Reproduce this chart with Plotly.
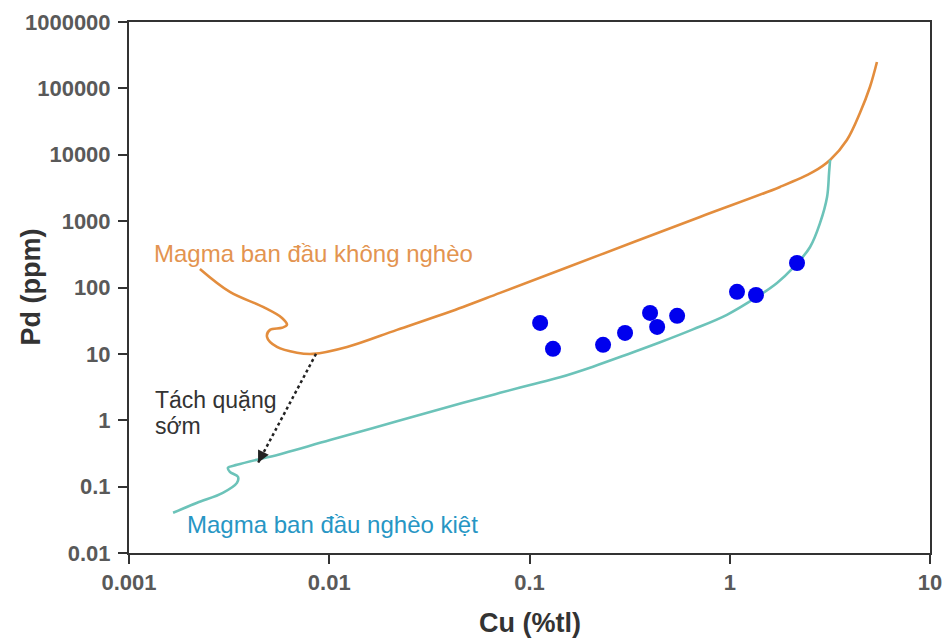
import math
import plotly.graph_objects as go

# ---- data ----
# Orange curve: "Magma ban đầu không nghèo"
orange_cu = [0.00226, 0.00319, 0.00467, 0.00581, 0.00615, 0.00581, 0.00506, 0.00489,
             0.00548, 0.00690, 0.00830, 0.01227, 0.02178, 0.0466, 0.0713, 0.225,
             0.710, 1.782, 2.606, 3.170, 3.846, 4.467, 5.012, 5.433]
orange_pd = [190.5, 85.9, 51.0, 34.8, 27.4, 24.7, 23.0, 18.0,
             12.7, 10.4, 10.0, 12.7, 23.0, 51.0, 83.0, 310,
             1156, 3273, 5508, 8356, 16710, 42660, 104950, 250000]

# Teal curve: "Magma ban đầu nghèo kiệt"
teal_cu = [0.00166, 0.00219, 0.00294, 0.00346, 0.00350, 0.00319, 0.00312, 0.00346,
           0.00436, 0.00506, 0.01009, 0.02178, 0.0466, 0.0713, 0.1006, 0.1419, 0.2075,
           0.307, 0.449, 0.655, 0.968, 1.368, 1.722, 2.070, 2.518, 2.825, 3.062,
           3.133, 3.170]
teal_pd = [0.0403, 0.0570, 0.0807, 0.114, 0.1406, 0.167, 0.192, 0.213,
           0.254, 0.281, 0.503, 0.962, 1.828, 2.588, 3.39, 4.44, 6.42,
           9.79, 14.95, 23.4, 38.8, 72.1, 117, 197, 408, 940, 2312,
           5321, 8356]

# Samples
sample_cu = [0.113, 0.131, 0.233, 0.300, 0.400, 0.434, 0.546, 1.087, 1.352, 2.167]
sample_pd = [29.3, 11.9, 13.7, 20.7, 41.4, 25.5, 37.4, 86, 77, 234]

# Early sulfide separation arrow (start on orange, end on teal)
arrow_cu = [0.00859, 0.00441]
arrow_pd = [10.0, 0.228]

x_ticks = [0.001, 0.01, 0.1, 1, 10]
x_ticktext = ["0.001", "0.01", "0.1", "1", "10"]
y_ticks = [0.01, 0.1, 1, 10, 100, 1000, 10000, 100000, 1000000]
y_ticktext = ["0.01", "0.1", "1", "10", "100", "1000", "10000", "100000", "1000000"]

ORANGE = "#E38D3D"
TEAL = "#6CC3B9"
FONT = "Liberation Sans, Arial, sans-serif"

L, R, T, B = 129, 13, 22, 85
W, H = 943, 638
pw, ph = W - L - R, H - T - B

fig = go.Figure()
fig.add_trace(go.Scatter(x=orange_cu, y=orange_pd, mode="lines",
                         line=dict(color=ORANGE, width=2.6, shape="spline", smoothing=1.0)))
fig.add_trace(go.Scatter(x=teal_cu, y=teal_pd, mode="lines",
                         line=dict(color=TEAL, width=2.6, shape="spline", smoothing=1.0)))
fig.add_trace(go.Scatter(x=arrow_cu, y=arrow_pd, mode="lines",
                         line=dict(color="#222222", width=2.5, dash="dot")))
fig.add_trace(go.Scatter(x=sample_cu, y=sample_pd, mode="markers",
                         marker=dict(color="#0000EE", size=16, line=dict(width=0))))

# arrowhead at the end of the dotted line
fig.add_annotation(x=math.log10(arrow_cu[1]), y=math.log10(arrow_pd[1]), xref="x", yref="y",
                   ax=4, ay=-8, axref="pixel", ayref="pixel", showarrow=True,
                   arrowhead=2, arrowsize=1.2, arrowwidth=2, arrowcolor="#222222", text="", standoff=0)

fig.add_annotation(x=-2.885, y=2.506, xref="x", yref="y", xanchor="left", yanchor="middle",
                   text="Magma ban đầu không nghèo", showarrow=False,
                   font=dict(family=FONT, size=24, color="#E39450"))
fig.add_annotation(x=-2.72, y=-1.575, xref="x", yref="y", xanchor="left", yanchor="middle",
                   text="Magma ban đầu nghèo kiệt", showarrow=False,
                   font=dict(family=FONT, size=24, color="#2796C4"))
fig.add_annotation(x=-2.88, y=0.30, xref="x", yref="y", xanchor="left", yanchor="middle",
                   text="Tách quặng", showarrow=False,
                   font=dict(family=FONT, size=23, color="#333333"))
fig.add_annotation(x=-2.88, y=-0.08, xref="x", yref="y", xanchor="left", yanchor="middle",
                   text="sớm", showarrow=False,
                   font=dict(family=FONT, size=23, color="#333333"))

# axis titles
fig.add_annotation(x=0.5, y=(H - B - 623) / ph, xref="paper", yref="paper", text="Cu (%tl)",
                   showarrow=False,
                   font=dict(family=FONT, size=27, color="#333333", weight="bold"),
                   xanchor="center", yanchor="middle")
fig.add_annotation(x=(30 - L) / pw, y=0.5, xref="paper", yref="paper", text="Pd (ppm)",
                   showarrow=False, textangle=-90,
                   font=dict(family=FONT, size=27, color="#333333", weight="bold"),
                   xanchor="center", yanchor="middle")

axis_common = dict(type="log", showgrid=False, zeroline=False, showline=True,
                   linecolor="#333333", linewidth=2, mirror=True, automargin=False,
                   ticks="outside", ticklen=9, tickwidth=2, tickcolor="#333333",
                   tickfont=dict(family=FONT, size=22, color="#595959", weight="bold"))
fig.update_xaxes(range=[-3, 1], tickvals=x_ticks, ticktext=x_ticktext, **axis_common)
fig.update_yaxes(range=[-2, 6], tickvals=y_ticks, ticktext=y_ticktext,
                 ticklabelstandoff=3, **axis_common)

fig.update_layout(width=W, height=H, margin=dict(l=L, r=R, t=T, b=B, autoexpand=False),
                  plot_bgcolor="white", paper_bgcolor="white", showlegend=False,
                  hovermode=False)

fig.write_html("out.html")
